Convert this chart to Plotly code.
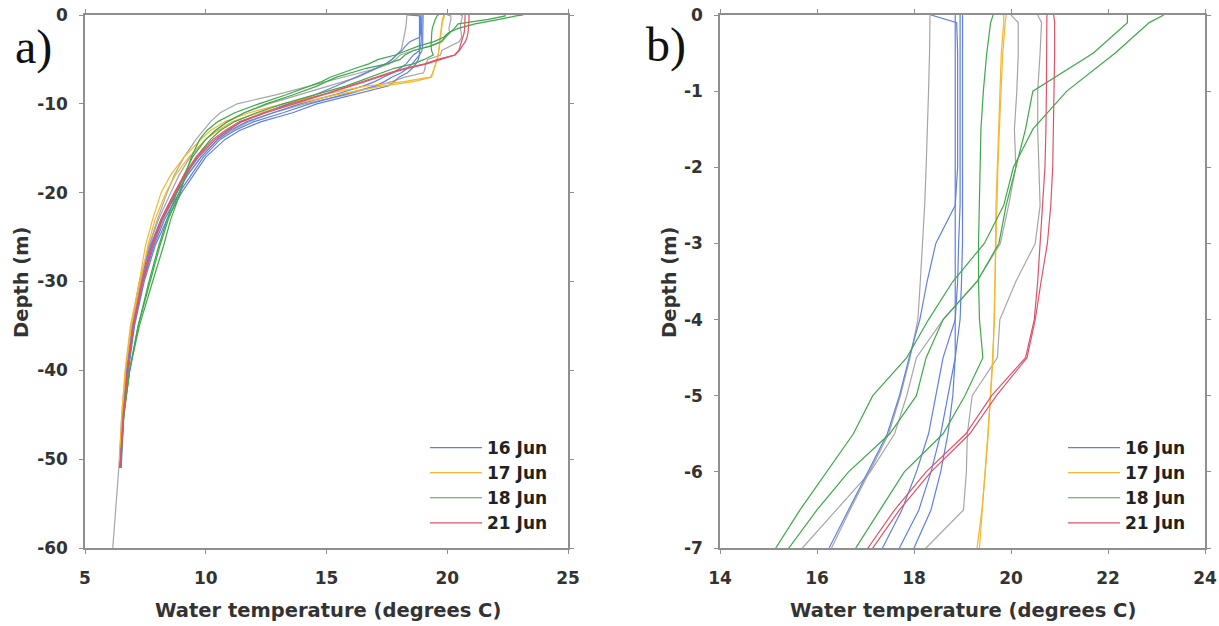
import plotly.graph_objects as go

# ---------------- data ----------------
DEPTH = [0, -0.1, -0.5, -1, -1.5, -2, -2.5, -3, -3.5, -4, -4.5, -5, -5.5, -6, -6.5, -7,
         -7.5, -8, -9, -10, -11, -12, -13, -14, -16, -18, -20, -23, -26, -30, -35, -40, -45, -51, -60]

DATES = ["16 Jun", "17 Jun", "18 Jun", "21 Jun"]

# 16 Jun (blue)
B1 = [18.35, 18.88, 18.9, 18.9, 18.9, 18.9, 18.85, 18.45, 18.27, 18.12, 17.9, 17.7, 17.45, 17.05, 16.65, 16.25,
      15.8, 15.4, 14.5, 13.4, 12.4, 11.5, 10.9, 10.4, 9.7, 9.15, 8.7, 8.15, 7.7, 7.3, 6.95, 6.72, 6.57, 6.45, None]
B2 = [18.95, 18.95, 18.95, 18.95, 18.95, 18.95, 18.95, 18.92, 18.9, 18.85, 18.6, 18.45, 18.3, 18.05, 17.75, 17.35,
      17.0, 16.5, 15.3, 13.9, 12.8, 11.7, 11.0, 10.5, 9.8, 9.25, 8.8, 8.2, 7.75, 7.35, 7.0, 6.75, 6.58, 6.45, None]
B3 = [19.0, 19.0, 19.0, 19.0, 19.0, 19.0, 19.0, 19.0, 18.98, 18.95, 18.85, 18.7, 18.55, 18.35, 18.1, 17.7,
      17.4, 17.0, 15.7, 14.3, 13.2, 12.0, 11.2, 10.6, 9.9, 9.4, 8.9, 8.3, 7.85, 7.4, 7.0, 6.78, 6.6, 6.48, None]
B4 = [18.85, 18.85, 18.85, 18.85, 18.85, 18.85, 18.85, 18.85, 18.85, 18.85, 18.85, 18.8, 18.7, 18.55, 18.35, 18.0,
      17.8, 17.55, 16.1, 14.6, 13.6, 12.3, 11.4, 10.8, 10.0, 9.5, 9.0, 8.4, 7.9, 7.45, 7.05, 6.8, 6.6, 6.5, None]
# 17 Jun (orange)
O1 = [19.85, 19.85, 19.8, 19.77, 19.74, 19.71, 19.69, 19.68, 19.67, 19.66, 19.62, 19.58, 19.53, 19.47, 19.4, 19.3,
      18.2, 16.6, 14.8, 13.2, 11.8, 10.8, 10.2, 9.8, 9.1, 8.55, 8.15, 7.8, 7.5, 7.25, 6.88, 6.66, 6.52, 6.42, None]
O2 = [19.9, 19.88, 19.83, 19.79, 19.76, 19.73, 19.71, 19.7, 19.68, 19.66, 19.63, 19.58, 19.52, 19.46, 19.4, 19.35,
      18.6, 17.3, 15.4, 13.7, 12.2, 11.1, 10.5, 10.0, 9.3, 8.75, 8.35, 7.9, 7.6, 7.3, 6.92, 6.68, 6.55, 6.45, None]
# 18 Jun (green)
G1 = [23.15, 22.85, 22.15, 21.15, 20.45, 20.05, 19.85, 19.45, 18.8, 18.3, 17.85, 17.15, 16.75, 16.2, 15.65, 15.15,
      14.8, 14.3, 13.3, 12.2, 11.2, 10.5, 10.05, 9.75, 9.4, 9.15, 8.95, 8.55, 8.25, 7.8, 7.25, 6.85, 6.6, 6.45, None]
G2 = [22.4, 22.4, 21.7, 20.45, 20.3, 20.1, 19.9, 19.75, 19.3, 18.6, 18.25, 18.05, 17.5, 16.65, 16.0, 15.42,
      15.0, 14.6, 13.6, 12.5, 11.6, 10.9, 10.4, 10.0, 9.45, 9.1, 8.8, 8.4, 8.05, 7.65, 7.2, 6.85, 6.62, 6.45, None]
G3 = [19.63, 19.58, 19.5, 19.43, 19.38, 19.36, 19.34, 19.33, 19.33, 19.35, 19.42, 19.05, 18.6, 17.8, 17.3, 16.8,
      16.3, 15.8, 14.5, 13.2, 12.1, 11.2, 10.6, 10.2, 9.6, 9.2, 8.9, 8.45, 8.1, 7.7, 7.2, 6.85, 6.6, 6.45, None]
# 21 Jun (red)
R1 = [20.74, 20.74, 20.74, 20.73, 20.72, 20.7, 20.65, 20.6, 20.55, 20.48, 20.3, 19.6, 19.07, 18.25, 17.6, 17.05,
      16.5, 15.9, 14.8, 13.5, 12.4, 11.4, 10.8, 10.3, 9.6, 9.1, 8.7, 8.15, 7.75, 7.35, 7.0, 6.75, 6.58, 6.45, None]
R2 = [20.88, 20.9, 20.9, 20.89, 20.88, 20.86, 20.82, 20.75, 20.62, 20.5, 20.33, 19.7, 19.15, 18.35, 17.7, 17.15,
      16.6, 16.0, 14.9, 13.7, 12.5, 11.5, 10.9, 10.4, 9.65, 9.15, 8.75, 8.2, 7.8, 7.4, 7.02, 6.77, 6.6, 6.47, None]
# other casts (gray, not in legend)
GRAY_L = [18.33, 18.33, 18.32, 18.3, 18.28, 18.25, 18.22, 18.18, 18.13, 18.08, 17.92, 17.72, 17.48, 17.08, 16.68, 16.3,
          15.7, 15.1, 13.9, 12.6, 11.6, 10.9, 10.4, 10.0, 9.35, 8.9, 8.55, 8.05, 7.65, 7.25, 6.92, 6.68, 6.52, 6.4, 6.15]
GRAY_M = [20.0, 20.15, 20.15, 20.12, 20.07, 20.1, 19.95, 19.78, 19.3, 18.6, 18.05, 17.85, 17.6, 17.1, 16.4, 15.7,
          15.1, 14.4, 12.9, 11.3, 10.6, 10.2, 9.9, 9.6, 9.1, 8.7, 8.4, 8.0, 7.65, 7.3, 6.95, 6.7, 6.55, 6.45, None]
GRAY_R = [20.55, 20.63, 20.6, 20.55, 20.55, 20.58, 20.6, 20.5, 20.1, 19.77, 19.72, 19.2, 19.1, 19.08, 19.02, 18.25,
          17.7, 17.1, 15.8, 14.1, 12.8, 11.8, 11.1, 10.5, 9.8, 9.25, 8.8, 8.25, 7.8, 7.4, 7.02, 6.75, 6.58, 6.45, None]

PROFILES = [
    (GRAY_L, None), (GRAY_M, None), (GRAY_R, None),
    (B1, "16 Jun"), (B2, "16 Jun"), (B3, "16 Jun"), (B4, "16 Jun"),
    (O1, "17 Jun"), (O2, "17 Jun"),
    (G1, "18 Jun"), (G2, "18 Jun"), (G3, "18 Jun"),
    (R1, "21 Jun"), (R2, "21 Jun"),
]

COLORS = {"16 Jun": "#5f80de", "17 Jun": "#f2b830", "18 Jun": "#3ea84a", "21 Jun": "#dc5468", None: "#a6a6a6"}
RANK = {"16 Jun": 1, "17 Jun": 2, "18 Jun": 3, "21 Jun": 4}

XA_TICKS = [5, 10, 15, 20, 25]
YA_TICKS = [0, -10, -20, -30, -40, -50, -60]
XB_TICKS = [14, 16, 18, 20, 22, 24]
YB_TICKS = [0, -1, -2, -3, -4, -5, -6, -7]

# ---------------- figure ----------------
W, H = 1219, 626
fig = go.Figure()

for xa, ya, leg in [("x", "y", "legend"), ("x2", "y2", "legend2")]:
    shown = set()
    for prof, date in PROFILES:
        show = date is not None and date not in shown
        if show:
            shown.add(date)
        fig.add_trace(go.Scatter(
            x=prof, y=DEPTH, mode="lines", xaxis=xa, yaxis=ya,
            line=dict(color=COLORS[date], width=1.2),
            name=date if date else "", showlegend=show, legend=leg,
            legendrank=RANK.get(date, 10), connectgaps=False,
        ))

TICKFONT = dict(family="DejaVu Sans", size=17, color="#333333", weight="bold")
AX = dict(showline=True, linecolor="#8f8f8f", linewidth=1.5, mirror="ticks", ticks="outside",
          ticklen=4, tickcolor="#8f8f8f", showgrid=False, zeroline=False, tickfont=TICKFONT,
          automargin=False, fixedrange=True)


def px_x(p):
    return p / W


def px_y(p):
    return 1 - p / H


LEGFONT = dict(family="DejaVu Sans", size=17, color="#222222", weight="bold")
fig.update_layout(
    width=W, height=H, margin=dict(l=0, r=0, t=0, b=0, pad=0, autoexpand=False),
    paper_bgcolor="white", plot_bgcolor="white",
    xaxis=dict(domain=[px_x(85), px_x(568)], range=[5, 25], tickvals=XA_TICKS,
               ticktext=[str(v) for v in XA_TICKS], anchor="y", ticklabelstandoff=10, **AX),
    yaxis=dict(domain=[px_y(548), px_y(15)], range=[-60, 0], tickvals=YA_TICKS,
               ticktext=[str(v) for v in YA_TICKS], anchor="x", ticklabelstandoff=8, **AX),
    xaxis2=dict(domain=[px_x(720), px_x(1205)], range=[14, 24], tickvals=XB_TICKS,
                ticktext=[str(v) for v in XB_TICKS], anchor="y2", ticklabelstandoff=10, **AX),
    yaxis2=dict(domain=[px_y(548), px_y(15)], range=[-7, 0], tickvals=YB_TICKS,
                ticktext=[str(v) for v in YB_TICKS], anchor="x2", ticklabelstandoff=8, **AX),
    legend=dict(x=px_x(553), xanchor="right", y=px_y(430), yanchor="top",
                bgcolor="rgba(0,0,0,0)", itemwidth=52, font=LEGFONT),
    legend2=dict(x=px_x(1191), xanchor="right", y=px_y(430), yanchor="top",
                 bgcolor="rgba(0,0,0,0)", itemwidth=52, font=LEGFONT),
    showlegend=True,
)

TITLEFONT = dict(family="DejaVu Sans", size=19.5, color="#333333", weight="bold")
ann = [
    dict(text="Water temperature (degrees C)", x=px_x(328), y=px_y(610), font=TITLEFONT),
    dict(text="Water temperature (degrees C)", x=px_x(963), y=px_y(610), font=TITLEFONT),
    dict(text="Depth (m)", x=px_x(21), y=px_y(282), textangle=-90, font=TITLEFONT),
    dict(text="Depth (m)", x=px_x(669), y=px_y(282), textangle=-90, font=TITLEFONT),
    dict(text="a)", x=px_x(33), y=px_y(47), font=dict(family="Liberation Serif", size=48, color="#111111")),
    dict(text="b)", x=px_x(666), y=px_y(45), font=dict(family="Liberation Serif", size=48, color="#111111")),
]
for a in ann:
    a.update(xref="paper", yref="paper", showarrow=False, xanchor="center", yanchor="middle")
fig.update_layout(annotations=ann)

fig.write_html("out.html")
